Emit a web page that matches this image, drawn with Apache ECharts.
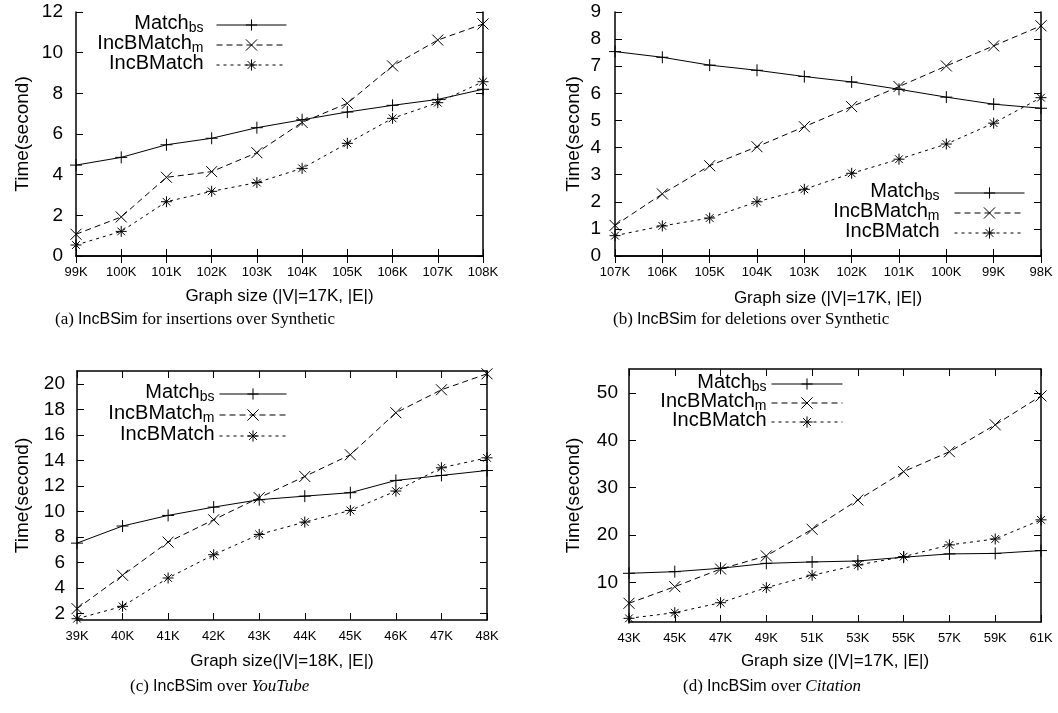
<!DOCTYPE html>
<html>
<head>
<meta charset="utf-8">
<script src="https://cdn.jsdelivr.net/npm/echarts@6/dist/echarts.min.js"></script>
<style>
  html, body { margin: 0; padding: 0; background: #fff; }
  #charts { width: 1058px; height: 713px; }
</style>
</head>
<body>
<div id="charts"></div>
<script>
// categories (x axis tick labels)
var catsA = ['99K', '100K', '101K', '102K', '103K', '104K', '105K', '106K', '107K', '108K'];
var catsB = ['107K', '106K', '105K', '104K', '103K', '102K', '101K', '100K', '99K', '98K'];
var catsC = ['39K', '40K', '41K', '42K', '43K', '44K', '45K', '46K', '47K', '48K'];
var catsD = ['43K', '45K', '47K', '49K', '51K', '53K', '55K', '57K', '59K', '61K'];

// (a) insertions over Synthetic
var matchBsA = [4.47, 4.85, 5.47, 5.79, 6.31, 6.7, 7.08, 7.41, 7.7, 8.2];
var incMA = [1.07, 1.92, 3.87, 4.15, 5.08, 6.57, 7.51, 9.35, 10.62, 11.41];
var incA = [0.54, 1.21, 2.67, 3.18, 3.61, 4.31, 5.54, 6.77, 7.54, 8.57];

// (b) deletions over Synthetic
var matchBsB = [7.54, 7.33, 7.04, 6.85, 6.62, 6.42, 6.15, 5.86, 5.6, 5.45];
var incMB = [1.13, 2.29, 3.33, 4.03, 4.77, 5.51, 6.25, 7.01, 7.75, 8.49];
var incB = [0.75, 1.11, 1.4, 2.0, 2.46, 3.05, 3.57, 4.13, 4.9, 5.84];

// (c) YouTube
var matchBsC = [7.52, 8.86, 9.69, 10.34, 10.92, 11.2, 11.47, 12.43, 12.82, 13.21];
var incMC = [2.39, 5.0, 7.6, 9.35, 11.08, 12.74, 14.44, 17.73, 19.53, 20.78];
var incC = [1.6, 2.57, 4.79, 6.61, 8.2, 9.17, 10.08, 11.6, 13.42, 14.2];

// (d) Citation
var matchBsD = [11.9, 12.24, 12.96, 14.0, 14.3, 14.5, 15.3, 16.0, 16.1, 16.7];
var incMD = [5.56, 9.07, 12.8, 15.57, 21.2, 27.4, 33.4, 37.6, 43.3, 49.4];
var incD = [2.38, 3.57, 5.68, 8.86, 11.48, 13.66, 15.42, 17.9, 19.16, 23.2];

// y tick values
var ticksC = [2, 4, 6, 8, 10, 12, 14, 16, 18, 20];
var ticksD = [10, 20, 30, 40, 50];

var xNames = ['Graph size (|V|=17K, |E|)', 'Graph size (|V|=17K, |E|)', 'Graph size(|V|=18K, |E|)', 'Graph size (|V|=17K, |E|)'];
var seriesNames = ['Match_bs', 'IncBMatch_m', 'IncBMatch'];

var SANS = 'Liberation Sans';
var SERIF = 'Liberation Serif';

var SYM = {
    'Match_bs': 'path://M0,5L10,5M5,0L5,10',
    'IncBMatch_m': 'path://M0,0L10,10M0,10L10,0',
    'IncBMatch': 'path://M0,5L10,5M5,0L5,10M1.5,1.5L8.5,8.5M1.5,8.5L8.5,1.5'
};
var DASH = {
    'Match_bs': 'solid',
    'IncBMatch_m': [6, 4],
    'IncBMatch': [3, 4]
};

var chart = echarts.init(document.getElementById('charts'));

// panel layout
var panels = [
    {cats: catsA, data: [matchBsA, incMA, incA], grid: {left: 76, top: 12, width: 407, height: 244},
        y: {min: 0, max: 12, interval: 2}, yGap: 44, yMargin: 13, xGap: 32,
        legend: {right: 771, top: 13, itemWidth: 70, gap: 8, itemGap: -4}},
    {cats: catsB, data: [matchBsB, incMB, incB], grid: {left: 615, top: 12, width: 426, height: 244},
        y: {min: 0, max: 9, interval: 1}, yGap: 32, yMargin: 14, xGap: 34,
        legend: {right: 33, top: 181, itemWidth: 70, gap: 10, itemGap: -4}},
    {cats: catsC, data: [matchBsC, incMC, incC], grid: {left: 77, top: 371, width: 410, height: 249},
        y: {min: 1.5, max: 21, ticks: ticksC}, yGap: 45, yMargin: 12, xGap: 33,
        legend: {right: 771, top: 382, itemWidth: 67, gap: 0, itemGap: -3}},
    {cats: catsD, data: [matchBsD, incMD, incD], grid: {left: 629, top: 369, width: 412, height: 253},
        y: {min: 1.6, max: 55.1, ticks: ticksD}, yGap: 46, yMargin: 11, xGap: 31,
        legend: {right: 215, top: 372, itemWidth: 71, gap: 0, itemGap: -5}}
];

var grids = [], xAxes = [], yAxes = [], series = [], legends = [];

function legendLabel(gap) {
    return function (name) {
        var s;
        if (name === 'Match_bs') s = '{n|Match}{s|bs}';
        else if (name === 'IncBMatch_m') s = '{n|IncBMatch}{s|m}';
        else s = '{n|IncBMatch}';
        if (gap) s += '{g| }';
        return s;
    };
}

panels.forEach(function (p, i) {
    grids.push({left: p.grid.left, top: p.grid.top, width: p.grid.width, height: p.grid.height,
        outerBoundsMode: 'none', containLabel: false, show: false});

    var lineStyle = {color: '#000', width: 1.5};
    // bottom axis
    xAxes.push({
        type: 'category', gridIndex: i, data: p.cats, boundaryGap: false, position: 'bottom',
        axisLine: {lineStyle: lineStyle},
        axisTick: {inside: true, length: 7, lineStyle: {color: '#000', width: 1}},
        axisLabel: {interval: 0, color: '#000', fontFamily: SANS, fontSize: 13, margin: 10},
        splitLine: {show: false},
        name: xNames[i], nameLocation: 'middle', nameGap: p.xGap,
        nameTextStyle: {color: '#000', fontFamily: SANS, fontSize: 17}
    });
    // top mirror axis
    xAxes.push({
        type: 'category', gridIndex: i, data: p.cats, boundaryGap: false, position: 'top',
        axisLine: {lineStyle: lineStyle},
        axisTick: {inside: true, length: 7, lineStyle: {color: '#000', width: 1}},
        axisLabel: {show: false}, splitLine: {show: false}
    });

    var yl = {
        type: 'value', gridIndex: i, min: p.y.min, max: p.y.max, position: 'left',
        axisLine: {show: true, lineStyle: lineStyle},
        axisTick: {show: true, inside: true, length: 7, lineStyle: {color: '#000', width: 1}},
        axisLabel: {color: '#000', fontFamily: SANS, fontSize: 19, margin: p.yMargin},
        splitLine: {show: false},
        name: 'Time(second)', nameLocation: 'middle', nameGap: p.yGap, nameRotate: 90,
        nameTextStyle: {color: '#000', fontFamily: SANS, fontSize: 19}
    };
    var yr = {
        type: 'value', gridIndex: i, min: p.y.min, max: p.y.max, position: 'right',
        axisLine: {show: true, lineStyle: lineStyle},
        axisTick: {show: true, inside: true, length: 7, lineStyle: {color: '#000', width: 1}},
        axisLabel: {show: false}, splitLine: {show: false}
    };
    if (p.y.ticks) {
        yl.axisLabel.customValues = p.y.ticks;
        yl.axisTick.customValues = p.y.ticks;
        yr.axisTick.customValues = p.y.ticks;
    } else {
        yl.interval = p.y.interval;
        yr.interval = p.y.interval;
    }
    yAxes.push(yl);
    yAxes.push(yr);

    seriesNames.forEach(function (nm, k) {
        series.push({
            name: nm, type: 'line', xAxisIndex: i * 2, yAxisIndex: i * 2,
            data: p.data[k],
            symbol: SYM[nm], symbolSize: nm === 'Match_bs' ? 12 : 11,
            lineStyle: {color: '#000', width: 1, type: DASH[nm]},
            itemStyle: {color: '#000', borderColor: '#000', borderWidth: 1},
            emphasis: {disabled: true},
            clip: false,
            silent: true
        });
    });

    legends.push({
        orient: 'vertical', align: 'right', right: p.legend.right, top: p.legend.top,
        padding: 0, itemGap: p.legend.itemGap, itemWidth: p.legend.itemWidth, itemHeight: 14,
        data: seriesNames, selectedMode: false,
        formatter: legendLabel(p.legend.gap),
        lineStyle: {width: 1},
        itemStyle: {borderWidth: 1, borderColor: '#000'},
        textStyle: {
            color: '#000', fontFamily: SANS, fontSize: 20,
            rich: {
                n: {fontFamily: SANS, fontSize: 20, color: '#000', lineHeight: 20, padding: [0, 0, 4, 0]},
                s: {fontFamily: SANS, fontSize: 14, color: '#000', verticalAlign: 'bottom'},
                g: {width: p.legend.gap}
            }
        }
    });
});

// captions
var capRich = {
    l: {fontFamily: SERIF, fontSize: 17, fontWeight: 'normal', color: '#000'},
    s: {fontFamily: SANS, fontSize: 16, fontWeight: 'normal', color: '#000'},
    i: {fontFamily: SERIF, fontSize: 17, fontWeight: 'normal', fontStyle: 'italic', color: '#000'}
};
var titles = [
    {text: '{l|(a) }{s|IncBSim}{l| for insertions over Synthetic}', left: 55, top: 311},
    {text: '{l|(b) }{s|IncBSim}{l| for deletions over Synthetic}', left: 613, top: 311},
    {text: '{l|(c) }{s|IncBSim}{l| over }{i|YouTube}', left: 130, top: 678},
    {text: '{l|(d) }{s|IncBSim}{l| over }{i|Citation}', left: 683, top: 678}
].map(function (t) {
    t.padding = 0;
    t.textStyle = {fontWeight: 'normal', rich: capRich};
    return t;
});

chart.setOption({
    animation: false,
    backgroundColor: '#fff',
    textStyle: {fontFamily: SANS},
    title: titles,
    grid: grids,
    xAxis: xAxes,
    yAxis: yAxes,
    legend: legends,
    series: series
});
</script>
</body>
</html>
